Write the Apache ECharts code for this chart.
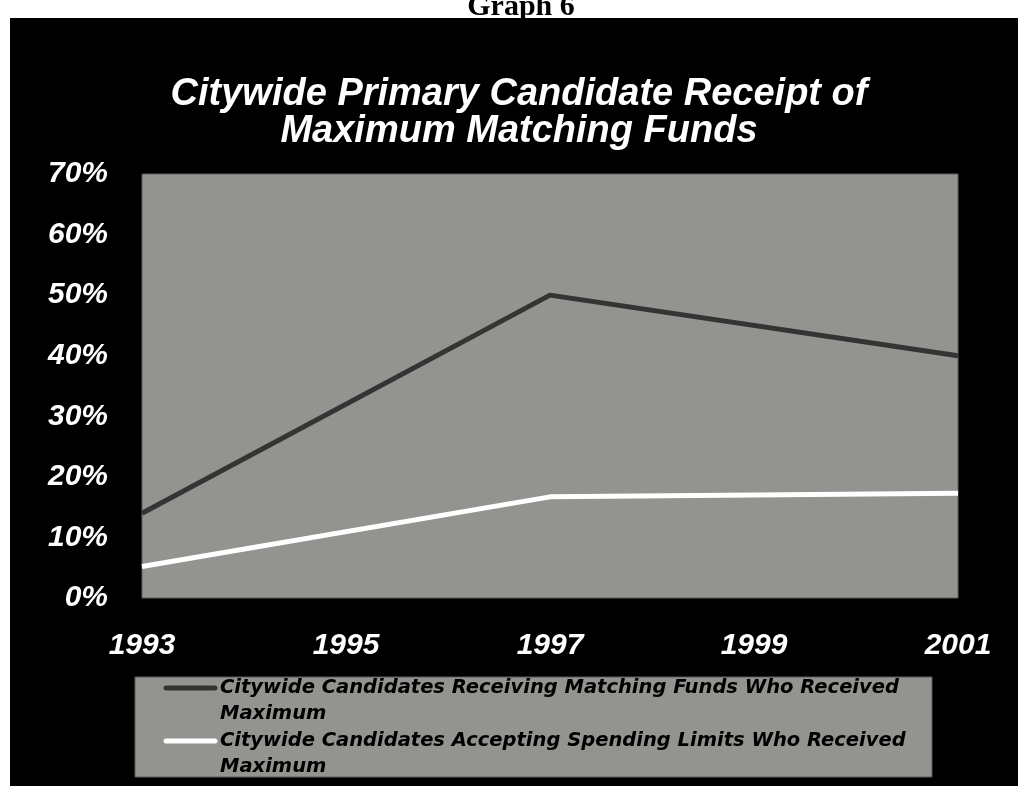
<!DOCTYPE html>
<html>
<head>
<meta charset="utf-8">
<script src="https://cdn.jsdelivr.net/npm/echarts@6/dist/echarts.min.js"></script>
<style>
  html, body { margin: 0; padding: 0; background: #ffffff; }
  #chart { width: 1018px; height: 786px; }
</style>
</head>
<body>
<div id="chart"></div>
<script>
// Election years on the horizontal axis
const years = ['1993', '1995', '1997', '1999', '2001'];

// Share of citywide primary candidates who received the maximum (percent)
const receivingMatching = [14, null, 50, null, 40];
const acceptingLimits = [5.2, null, 16.7, null, 17.3];

const seriesNames = [
  'Citywide Candidates Receiving Matching Funds Who Received\nMaximum',
  'Citywide Candidates Accepting Spending Limits Who Received\nMaximum'
];
const seriesColors = ['#343434', '#ffffff'];

const titleLines = 'Citywide Primary Candidate Receipt of\nMaximum Matching Funds';
const pageHeading = 'Graph 6';

const yTicks = { min: 0, max: 70, interval: 10 };

const chart = echarts.init(document.getElementById('chart'), null, { renderer: 'canvas' });

const gray = '#939490';
const legendBox = { x: 135, y: 677, w: 797, h: 100 };
const rowStep = 53;

// Legend drawn as a framed box under the plot
const legendElements = [
  {
    type: 'rect',
    shape: { x: legendBox.x, y: legendBox.y, width: legendBox.w, height: legendBox.h },
    style: { fill: gray, stroke: '#5a5a5a', lineWidth: 1 },
    z: 1
  }
];
seriesNames.forEach((name, i) => {
  const cy = legendBox.y + 11 + i * rowStep;
  legendElements.push({
    type: 'line',
    shape: { x1: 166, y1: cy, x2: 215, y2: cy },
    style: { stroke: seriesColors[i], lineWidth: 5, lineCap: 'round' },
    z: 2
  });
  legendElements.push({
    type: 'text',
    x: 220,
    y: cy - 13,
    style: {
      text: name,
      fill: '#000000',
      font: 'italic bold 19.5px "DejaVu Sans"',
      lineHeight: 26,
      verticalAlign: 'top',
      align: 'left'
    },
    z: 2
  });
});

chart.setOption({
  animation: false,
  backgroundColor: '#ffffff',
  title: {
    text: titleLines,
    left: 514,
    textAlign: 'center',
    top: 71,
    textStyle: {
      color: '#ffffff',
      fontFamily: '"Liberation Sans", Arial, sans-serif',
      fontSize: 38,
      fontStyle: 'italic',
      fontWeight: 'bold',
      lineHeight: 37
    }
  },
  graphic: [
    {
      type: 'text',
      x: 521,
      y: 22,
      style: {
        text: pageHeading,
        fill: '#000000',
        font: 'bold 30px "Liberation Serif"',
        align: 'center',
        verticalAlign: 'bottom'
      },
      z: 0
    },
    {
      type: 'rect',
      shape: { x: 10, y: 18, width: 1008, height: 768 },
      style: { fill: '#000000' },
      z: 0
    }
  ].concat(legendElements),
  grid: {
    left: 142,
    top: 174,
    right: 60,
    bottom: 188,
    show: true,
    backgroundColor: gray,
    borderColor: '#5e5e5e',
    borderWidth: 1,
    z: 1
  },
  xAxis: {
    type: 'category',
    data: years,
    boundaryGap: false,
    axisLine: { show: false },
    axisTick: { show: false },
    splitLine: { show: false },
    axisLabel: {
      color: '#ffffff',
      fontFamily: '"Liberation Sans", Arial, sans-serif',
      fontSize: 30,
      fontStyle: 'italic',
      fontWeight: 'bold',
      margin: 33
    }
  },
  yAxis: {
    type: 'value',
    min: yTicks.min,
    max: yTicks.max,
    interval: yTicks.interval,
    axisLine: { show: false },
    axisTick: { show: false },
    splitLine: { show: true, lineStyle: { color: '#000000', width: 1.5 } },
    axisLabel: {
      formatter: '{value}%',
      color: '#ffffff',
      fontFamily: '"Liberation Sans", Arial, sans-serif',
      fontSize: 30,
      fontStyle: 'italic',
      fontWeight: 'bold',
      margin: 34
    }
  },
  series: [
    {
      name: seriesNames[0],
      type: 'line',
      data: receivingMatching,
      connectNulls: true,
      showSymbol: false,
      lineStyle: { color: seriesColors[0], width: 5 },
      itemStyle: { color: seriesColors[0] },
      z: 3
    },
    {
      name: seriesNames[1],
      type: 'line',
      data: acceptingLimits,
      connectNulls: true,
      showSymbol: false,
      lineStyle: { color: seriesColors[1], width: 5 },
      itemStyle: { color: seriesColors[1] },
      z: 3
    }
  ]
});
</script>
</body>
</html>
